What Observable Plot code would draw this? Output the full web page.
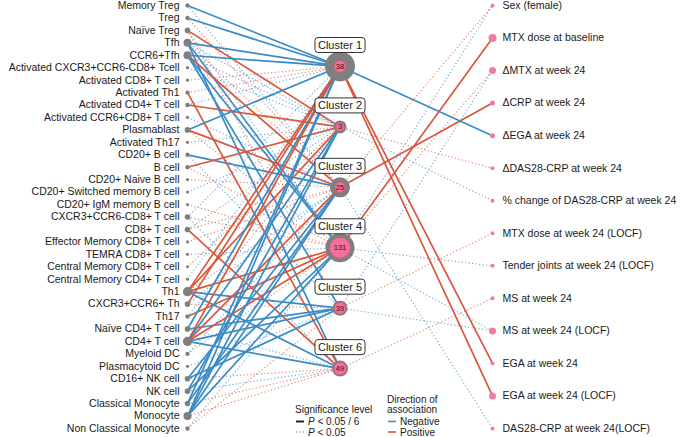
<!DOCTYPE html>
<html>
<head>
<meta charset="utf-8">
<script src="https://cdn.jsdelivr.net/npm/d3@7"></script>
<script src="https://cdn.jsdelivr.net/npm/@observablehq/plot@0.6"></script>
<style>
  body { margin: 0; background: #fff; }
  #wrap { position: relative; width: 680px; height: 437px; overflow: hidden; font-family: "Liberation Sans", Arial, sans-serif; }
  #legend { position: absolute; left: 0; top: 0; pointer-events: none; }
</style>
</head>
<body>
<div id="wrap"></div>
<script>
// ---------- data ----------
const cellTypes = ["Memory Treg", "Treg", "Naïve Treg", "Tfh", "CCR6+Tfh",
  "Activated CXCR3+CCR6-CD8+ Tcell", "Activated CD8+ T cell", "Activated Th1",
  "Activated CD4+ T cell", "Activated CCR6+CD8+ T cell", "Plasmablast", "Activated Th17",
  "CD20+ B cell", "B cell", "CD20+ Naive B cell", "CD20+ Switched memory B cell",
  "CD20+ IgM memory B cell", "CXCR3+CCR6-CD8+ T cell", "CD8+ T cell",
  "Effector Memory CD8+ T cell", "TEMRA CD8+ T cell", "Central Memory CD8+ T cell",
  "Central Memory CD4+ T cell", "Th1", "CXCR3+CCR6+ Th", "Th17", "Naïve CD4+ T cell",
  "CD4+ T cell", "Myeloid DC", "Plasmacytoid DC", "CD16+ NK cell", "NK cell",
  "Classical Monocyte", "Monocyte", "Non Classical Monocyte"];

const clusters = ["Cluster 1", "Cluster 2", "Cluster 3", "Cluster 4", "Cluster 5", "Cluster 6"];
const clusterCount = [38, 3, 25, 131, 39, 49];
const clusterScore = [3.0, 1.3, 2.0, 2.9, 1.5, 1.6];

const outcomes = ["Sex (female)", "MTX dose at baseline", "ΔMTX at week 24", "ΔCRP at week 24",
  "ΔEGA at week 24", "ΔDAS28-CRP at week 24", "% change of DAS28-CRP at week 24",
  "MTX dose at week 24 (LOCF)", "Tender joints at week 24 (LOCF)", "MS at week 24",
  "MS at week 24 (LOCF)", "EGA at week 24", "EGA at week 24 (LOCF)", "DAS28-CRP at week 24(LOCF)"];
const outcomeScore = [1, 3, 2.5, 1.5, 1.5, 1, 1, 1, 1, 1, 2.5, 1, 2.5, 1];

// cell type -> cluster : [cell, cluster, direction, level]  (S: P<0.05/6, D: P<0.05)
const cellLinks = [
  ["Memory Treg", 1, "Negative", "S"], ["Memory Treg", 3, "Negative", "D"],
  ["Treg", 1, "Negative", "S"], ["Treg", 3, "Positive", "D"],
  ["Naïve Treg", 2, "Positive", "S"], ["Naïve Treg", 4, "Negative", "D"], ["Naïve Treg", 5, "Positive", "D"],
  ["Tfh", 1, "Negative", "S"], ["Tfh", 4, "Negative", "S"], ["Tfh", 6, "Negative", "S"], ["Tfh", 2, "Negative", "D"], ["Tfh", 3, "Positive", "D"],
  ["CCR6+Tfh", 1, "Negative", "S"], ["CCR6+Tfh", 3, "Positive", "S"], ["CCR6+Tfh", 4, "Negative", "S"], ["CCR6+Tfh", 5, "Negative", "S"], ["CCR6+Tfh", 2, "Negative", "D"],
  ["Activated CXCR3+CCR6-CD8+ Tcell", 2, "Negative", "D"],
  ["Activated CD8+ T cell", 1, "Positive", "D"],
  ["Activated Th1", 1, "Positive", "D"], ["Activated Th1", 6, "Positive", "S"],
  ["Activated CD4+ T cell", 2, "Positive", "S"], ["Activated CD4+ T cell", 1, "Negative", "D"],
  ["Activated CCR6+CD8+ T cell", 3, "Negative", "D"],
  ["Plasmablast", 1, "Negative", "S"], ["Plasmablast", 3, "Positive", "S"], ["Plasmablast", 4, "Positive", "D"],
  ["Activated Th17", 2, "Negative", "D"],
  ["CD20+ B cell", 3, "Negative", "S"], ["CD20+ B cell", 5, "Negative", "D"],
  ["B cell", 2, "Positive", "S"], ["B cell", 4, "Positive", "D"],
  ["CD20+ Naive B cell", 3, "Positive", "D"],
  ["CD20+ Switched memory B cell", 2, "Negative", "D"],
  ["CD20+ IgM memory B cell", 4, "Positive", "D"],
  ["CXCR3+CCR6-CD8+ T cell", 1, "Negative", "D"], ["CXCR3+CCR6-CD8+ T cell", 4, "Positive", "D"], ["CXCR3+CCR6-CD8+ T cell", 6, "Negative", "D"],
  ["CD8+ T cell", 6, "Positive", "S"], ["CD8+ T cell", 2, "Negative", "D"], ["CD8+ T cell", 3, "Positive", "D"],
  ["Effector Memory CD8+ T cell", 3, "Positive", "D"],
  ["TEMRA CD8+ T cell", 4, "Negative", "D"],
  ["Central Memory CD8+ T cell", 2, "Positive", "D"],
  ["Central Memory CD4+ T cell", 1, "Negative", "D"],
  ["Th1", 1, "Positive", "S"], ["Th1", 2, "Positive", "S"], ["Th1", 4, "Positive", "S"], ["Th1", 5, "Negative", "S"], ["Th1", 6, "Negative", "S"], ["Th1", 3, "Negative", "D"],
  ["CXCR3+CCR6+ Th", 1, "Positive", "S"], ["CXCR3+CCR6+ Th", 5, "Positive", "D"], ["CXCR3+CCR6+ Th", 3, "Negative", "D"],
  ["Th17", 4, "Positive", "S"], ["Th17", 2, "Negative", "D"],
  ["Naïve CD4+ T cell", 1, "Negative", "S"], ["Naïve CD4+ T cell", 5, "Negative", "S"], ["Naïve CD4+ T cell", 6, "Negative", "D"],
  ["CD4+ T cell", 1, "Positive", "S"], ["CD4+ T cell", 2, "Negative", "S"], ["CD4+ T cell", 3, "Positive", "S"], ["CD4+ T cell", 4, "Positive", "S"], ["CD4+ T cell", 5, "Negative", "S"], ["CD4+ T cell", 6, "Negative", "S"],
  ["Myeloid DC", 4, "Positive", "D"], ["Myeloid DC", 3, "Negative", "D"],
  ["Plasmacytoid DC", 5, "Negative", "D"],
  ["CD16+ NK cell", 3, "Negative", "S"], ["CD16+ NK cell", 5, "Negative", "S"], ["CD16+ NK cell", 6, "Positive", "D"],
  ["NK cell", 2, "Negative", "S"], ["NK cell", 4, "Negative", "S"], ["NK cell", 6, "Negative", "D"],
  ["Classical Monocyte", 1, "Negative", "S"], ["Classical Monocyte", 3, "Negative", "S"], ["Classical Monocyte", 6, "Positive", "D"],
  ["Monocyte", 1, "Negative", "S"], ["Monocyte", 2, "Negative", "S"], ["Monocyte", 3, "Negative", "S"], ["Monocyte", 4, "Negative", "S"], ["Monocyte", 6, "Positive", "D"],
  ["Non Classical Monocyte", 5, "Positive", "D"], ["Non Classical Monocyte", 4, "Negative", "D"]
];

// cluster -> outcome
const outcomeLinks = [
  [3, "Sex (female)", "Positive", "D"], [4, "Sex (female)", "Negative", "D"],
  [4, "MTX dose at baseline", "Positive", "S"],
  [4, "ΔMTX at week 24", "Positive", "D"], [5, "ΔMTX at week 24", "Negative", "D"],
  [3, "ΔCRP at week 24", "Positive", "S"],
  [1, "ΔEGA at week 24", "Negative", "S"],
  [2, "ΔDAS28-CRP at week 24", "Positive", "D"],
  [2, "% change of DAS28-CRP at week 24", "Negative", "D"],
  [5, "MTX dose at week 24 (LOCF)", "Positive", "D"],
  [4, "Tender joints at week 24 (LOCF)", "Negative", "D"],
  [6, "MS at week 24", "Positive", "D"],
  [4, "MS at week 24 (LOCF)", "Negative", "D"], [5, "MS at week 24 (LOCF)", "Negative", "D"],
  [1, "EGA at week 24", "Positive", "S"],
  [1, "EGA at week 24 (LOCF)", "Positive", "S"],
  [3, "DAS28-CRP at week 24(LOCF)", "Negative", "D"]
];

// ---------- layout (column / row positions in scale units) ----------
const nLeft = cellTypes.length - 1;
const leftY = name => cellTypes.indexOf(name);
const clusterY = k => 4.9 + (k - 1) * 4.857;
const rightY = name => outcomes.indexOf(name) * nLeft / (outcomes.length - 1);

const links = [
  ...cellLinks.map(([c, k, dir, lev]) => ({x1: 0, y1: leftY(c), x2: 1, y2: clusterY(k), dir, lev})),
  ...outcomeLinks.map(([k, o, dir, lev]) => ({x1: 1, y1: clusterY(k), x2: 2, y2: rightY(o), dir, lev}))
];

const degree = d3.rollup(cellLinks, v => v.length, d => d[0]);
const leftNodes = cellTypes.map((name, i) => ({name, y: i, r: 1 + 0.6 * (degree.get(name) || 0)}));
const clusterNodes = clusters.map((name, i) => ({
  name, y: clusterY(i + 1), n: clusterCount[i],
  ring: 5 * clusterScore[i],
  core: 4 + clusterCount[i] * 6.5 / 131
}));
const rightNodes = outcomes.map((name, i) => ({name, y: rightY(name), r: 1 + outcomeScore[i]}));

const font = "'Liberation Sans', Arial, sans-serif";

const chart = Plot.plot({
  width: 680, height: 437,
  marginTop: 0, marginBottom: 0, marginLeft: 0, marginRight: 0,
  style: {fontFamily: font, background: "white"},
  x: {domain: [0, 2], range: [187, 492], axis: null},
  y: {domain: [0, nLeft], range: [5, 428], axis: null},
  r: {type: "identity"},
  color: {domain: ["Negative", "Positive"], range: ["#3a8cc6", "#d9573c"]},
  marks: [
    Plot.link(links.filter(d => d.lev === "D"), {
      x1: "x1", y1: "y1", x2: "x2", y2: "y2", stroke: "dir",
      strokeWidth: 1.1, strokeDasharray: "1.2,2.3", strokeOpacity: 0.75
    }),
    Plot.link(links.filter(d => d.lev === "S"), {
      x1: "x1", y1: "y1", x2: "x2", y2: "y2", stroke: "dir",
      strokeWidth: 1.7
    }),
    Plot.dot(leftNodes, {x: () => 0, y: "y", r: "r", fill: "#7f7f7f"}),
    Plot.text(leftNodes, {x: () => 0, y: "y", text: "name", textAnchor: "end", dx: -8, fontSize: 10.5, fill: "#1a1a1a"}),
    Plot.dot(clusterNodes, {x: () => 1, y: "y", r: "ring", fill: "#7f7f7f"}),
    Plot.dot(clusterNodes, {x: () => 1, y: "y", r: "core", fill: "#f2709a", stroke: "#c95079", strokeWidth: 0.6}),
    Plot.text(clusterNodes, {x: () => 1, y: "y", text: d => String(d.n), fontSize: 7.5, fill: "#2a1a20"}),
    Plot.text(clusterNodes, {x: () => 1, y: "y", text: "name", dy: -21, fontSize: 11, fill: "#1a1a1a"}),
    Plot.dot(rightNodes, {x: () => 2, y: "y", r: "r", fill: "#f07ca3"}),
    Plot.text(rightNodes, {x: () => 2, y: "y", text: "name", textAnchor: "start", dx: 10, fontSize: 10.5, fill: "#1a1a1a"})
  ]
});

const wrap = document.getElementById("wrap");
wrap.append(chart);

// rounded boxes behind the cluster labels
d3.select(chart).selectAll("text")
  .filter(function() { return /^Cluster \d$/.test(this.textContent); })
  .each(function() {
    const b = this.getBBox();
    const r = document.createElementNS("http://www.w3.org/2000/svg", "rect");
    r.setAttribute("x", b.x - 3);
    r.setAttribute("y", b.y - 1.5);
    r.setAttribute("width", b.width + 6);
    r.setAttribute("height", b.height + 3);
    r.setAttribute("rx", 3);
    r.setAttribute("fill", "white");
    r.setAttribute("stroke", "#333");
    r.setAttribute("stroke-width", 1);
    const t = this.getAttribute("transform");
    if (t) r.setAttribute("transform", t);
    this.parentNode.insertBefore(r, this);
  });

// legend
const leg = d3.select(wrap).append("svg").attr("id", "legend")
  .attr("width", 680).attr("height", 437)
  .style("font-family", font).style("font-size", "10px").attr("fill", "#1a1a1a");
leg.append("text").attr("x", 295).attr("y", 413).text("Significance level");
leg.append("line").attr("x1", 296).attr("x2", 304).attr("y1", 421.5).attr("y2", 421.5)
  .attr("stroke", "#222").attr("stroke-width", 2);
const t1 = leg.append("text").attr("x", 308).attr("y", 425);
t1.append("tspan").attr("font-style", "italic").text("P");
t1.append("tspan").text(" < 0.05 / 6");
leg.append("line").attr("x1", 296).attr("x2", 305).attr("y1", 432).attr("y2", 432)
  .attr("stroke", "#777").attr("stroke-width", 1.1).attr("stroke-dasharray", "1.2,2");
const t2 = leg.append("text").attr("x", 308).attr("y", 435.5);
t2.append("tspan").attr("font-style", "italic").text("P");
t2.append("tspan").text(" < 0.05");

leg.append("text").attr("x", 387).attr("y", 402.5).text("Direction of");
leg.append("text").attr("x", 387).attr("y", 413).text("association");
leg.append("line").attr("x1", 388).attr("x2", 396).attr("y1", 421.5).attr("y2", 421.5)
  .attr("stroke", "#3a8cc6").attr("stroke-width", 1.6);
leg.append("text").attr("x", 400).attr("y", 425).text("Negative");
leg.append("line").attr("x1", 388).attr("x2", 396).attr("y1", 432).attr("y2", 432)
  .attr("stroke", "#d9573c").attr("stroke-width", 1.6);
leg.append("text").attr("x", 400).attr("y", 435.5).text("Positive");
</script>
</body>
</html>
